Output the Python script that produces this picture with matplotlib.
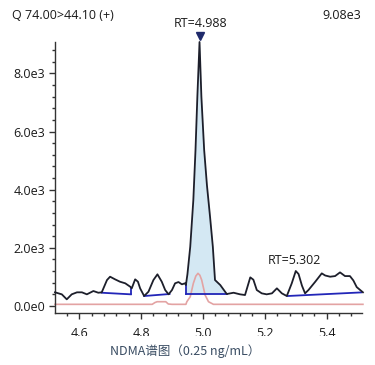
import matplotlib
matplotlib.use("Agg")
import matplotlib.pyplot as plt
from matplotlib.ticker import MultipleLocator
from matplotlib.patches import Rectangle

# ---- data ----
rt_signal = [4.522, 4.544, 4.560, 4.576, 4.593, 4.609, 4.625, 4.646, 4.662, 4.673,
             4.690, 4.700, 4.716, 4.732, 4.749, 4.765, 4.770, 4.781, 4.790, 4.797,
             4.810, 4.824, 4.840, 4.853, 4.867, 4.878, 4.889, 4.900, 4.910, 4.921,
             4.932, 4.942, 4.945, 4.950, 4.959, 4.969, 4.976, 4.982, 4.989, 4.995,
             5.004, 5.013, 5.023, 5.032, 5.039, 5.056, 5.077, 5.099, 5.120, 5.136,
             5.153, 5.163, 5.174, 5.190, 5.206, 5.223, 5.239, 5.255, 5.271, 5.287,
             5.300, 5.309, 5.320, 5.330, 5.341, 5.363, 5.384, 5.395, 5.411, 5.427,
             5.443, 5.459, 5.475, 5.486, 5.497, 5.517]
int_signal = [471, 402, 230, 402, 471, 471, 402, 516, 457, 471,
              894, 1008, 918, 836, 781, 664, 609, 918, 836, 609,
              344, 492, 894, 1090, 836, 550, 402, 550, 781, 825,
              746, 781, 722, 1100, 2039, 3645, 5365, 7200, 9080, 7200,
              5365, 4150, 3070, 2039, 894, 722, 413, 457, 402, 378,
              986, 905, 550, 436, 402, 436, 608, 436, 344, 780,
              1204, 1100, 700, 436, 550, 836, 1123, 1050, 1008, 1030,
              1157, 1030, 1030, 880, 650, 471]

rt_ref = [4.522, 4.836, 4.845, 4.852, 4.880, 4.888, 4.900, 4.945, 4.948, 4.959,
          4.969, 4.977, 4.984, 4.990, 4.996, 5.007, 5.018, 5.034, 5.517]
int_ref = [58, 58, 120, 148, 148, 70, 58, 58, 148, 320,
           780, 1030, 1124, 1060, 894, 378, 148, 58, 58]

# integration baselines: (rt_start, rt_end, int_start, int_end)
baselines = [(4.673, 4.767, 457, 402),
             (4.810, 4.892, 344, 413),
             (4.945, 5.077, 402, 402),
             (5.273, 5.517, 344, 471)]
# vertical drop lines: (rt, low, high)
droplines = [(4.767, 402, 630), (4.945, 402, 722)]

main_rt = 4.988
main_label = "RT=4.988"
second_rt = 5.300
second_label = "RT=5.302"
trace_title = "Q 74.00>44.10 (+)"
max_label = "9.08e3"
x_label = "NDMA谱图（0.25 ng/mL）"

# ---- figure ----
W, H = 375, 365
fig = plt.figure(figsize=(W / 100, H / 100), dpi=100)
ax = fig.add_axes([55 / W, (H - 313) / H, (362 - 55) / W, (313 - 42) / H])
ax.set_xlim(4.522, 5.514)
ax.set_ylim(-240, 9080)

lab_font = ["Open Sans", "DejaVu Sans"]
FS = 9

# main peak fill
pk_x = [x for x in rt_signal if 4.945 <= x <= 5.077]
pk_y = [y for x, y in zip(rt_signal, int_signal) if 4.945 <= x <= 5.077]
ax.fill_between(pk_x, pk_y, 402, color="#d4e8f3", lw=0, zorder=1)

ax.plot(rt_ref, int_ref, color="#e3a3a3", lw=1.2, zorder=2, clip_on=False)
for x0, x1, y0, y1 in baselines:
    ax.plot([x0, x1], [y0, y1], color="#2226b8", lw=1.3, zorder=3)
for x, lo, hi in droplines:
    ax.plot([x, x], [lo, hi], color="#2226b8", lw=1.3, zorder=3)
ax.plot(rt_signal, int_signal, color="#1d1f2b", lw=1.3, zorder=4, clip_on=False)

ax.plot([main_rt + 0.004], [9300], marker="v", ms=6, color="#1f2a6b",
        clip_on=False, zorder=5)
ax.text(main_rt + 0.004, 9720, main_label, ha="center", va="center",
        fontsize=FS, family=lab_font, color="#1a1a1a")
ax.text(second_rt - 0.005, 1550, second_label, ha="center", va="center",
        fontsize=FS, family=lab_font, color="#1a1a1a")

for s in ("top", "right"):
    ax.spines[s].set_visible(False)
for s in ("left", "bottom"):
    ax.spines[s].set_color("#333333")
    ax.spines[s].set_linewidth(1.0)

ax.xaxis.set_minor_locator(MultipleLocator(0.04))
ax.yaxis.set_minor_locator(MultipleLocator(400))
xt = [4.6, 4.8, 5.0, 5.2, 5.4]
ax.set_xticks(xt)
ax.set_xticklabels([f"{v:.1f}" for v in xt])
yt = [0, 2000, 4000, 6000, 8000]
ax.set_yticks(yt)
ax.set_yticklabels(["0.0e0", "2.0e3", "4.0e3", "6.0e3", "8.0e3"])
ax.tick_params(axis="both", which="major", length=4, width=1, color="#333333",
               labelsize=FS, labelcolor="#1a1a1a")
ax.tick_params(axis="both", which="minor", length=2.5, width=1, color="#333333")
ax.tick_params(axis="x", which="major", pad=6)
ax.tick_params(axis="y", which="major", pad=3)
for t in ax.get_xticklabels() + ax.get_yticklabels():
    t.set_family(lab_font)

fig.text(12 / W, 1 - 15.5 / H, trace_title, ha="left", va="center",
         fontsize=FS, family=lab_font, color="#1a1a1a")
fig.text(361 / W, 1 - 15.5 / H, max_label, ha="right", va="center",
         fontsize=FS, family=lab_font, color="#1a1a1a")

# the source image clips the bottom of the x tick labels
fig.add_artist(Rectangle((0, (H - 341) / H), 1, 5.5 / H, transform=fig.transFigure,
                         facecolor="white", edgecolor="none", zorder=10))

fig.text(185 / W, 1 - 351.5 / H, x_label, ha="center", va="center",
         fontsize=9, family=["Noto Sans CJK SC", "DejaVu Sans"],
         color="#3a4d63", zorder=11)

fig.savefig("out.png", dpi=100)
